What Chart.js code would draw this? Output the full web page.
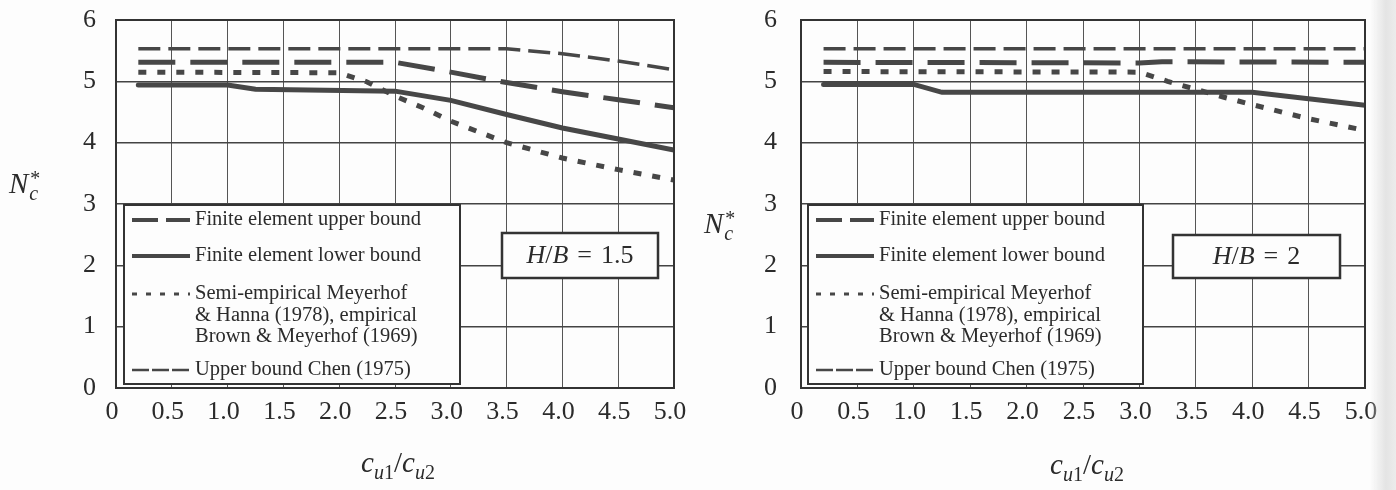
<!DOCTYPE html>
<html>
<head>
<meta charset="utf-8">
<script src="https://cdn.jsdelivr.net/npm/chart.js@4/dist/chart.umd.min.js"></script>
<style>
  body { margin: 0; background: #fdfdfd; width: 1396px; height: 490px; position: relative; overflow: hidden;
         font-family: "Liberation Serif", "DejaVu Serif", serif; color: #2b2b2b; }
  canvas { position: absolute; top: 0; }
  .ytitle { position: absolute; font-size: 29px; font-style: italic; white-space: nowrap; }
  .ytitle .ss { display: inline-block; vertical-align: middle; line-height: 15px; font-size: 20px; margin-left: 1px; }
  .xtitle { position: absolute; font-size: 29px; font-style: italic; white-space: nowrap; transform: translateX(-50%); }
  .xtitle sub { font-size: 20px; }
  .xtitle .up { font-style: normal; }
  .edge { position: absolute; top: 0; right: 0; width: 26px; height: 490px;
          background: linear-gradient(to right, rgba(230,230,230,0), #e4e4e4 60%, #ececec); }
</style>
</head>
<body>
<canvas id="left" width="698" height="490" style="left:0"></canvas>
<canvas id="right" width="698" height="490" style="left:698px"></canvas>
<div class="edge"></div>

<div class="ytitle" style="left:9px;top:167px">N<span class="ss">*<br>c</span></div>
<div class="ytitle" style="left:704px;top:207px">N<span class="ss">*<br>c</span></div>
<div class="xtitle" style="left:398px;top:446px">c<sub>u<span class="up">1</span></sub><span class="up">/</span>c<sub>u<span class="up">2</span></sub></div>
<div class="xtitle" style="left:1087px;top:448px">c<sub>u<span class="up">1</span></sub><span class="up">/</span>c<sub>u<span class="up">2</span></sub></div>

<script>
// x axis tick labels: c_u1/c_u2 from 0 to 5.0 in steps of 0.5
var xTicks = [0, 0.5, 1.0, 1.5, 2.0, 2.5, 3.0, 3.5, 4.0, 4.5, 5.0];
var yTicks = [0, 1, 2, 3, 4, 5, 6];

var seriesNames = ['Finite element upper bound', 'Finite element lower bound',
                   'Semi-empirical Meyerhof', 'Upper bound Chen (1975)'];

// H/B = 1.5
var upperL_x = [0.2, 2.5, 3.0, 3.5, 4.0, 4.5, 5.0];
var upperL_y = [5.31, 5.31, 5.15, 4.98, 4.83, 4.70, 4.57];
var lowerL_x = [0.2, 1.0, 1.25, 2.5, 3.0, 3.5, 4.0, 4.5, 5.0];
var lowerL_y = [4.94, 4.94, 4.87, 4.84, 4.69, 4.46, 4.24, 4.06, 3.88];
var semiL_x = [0.2, 2.0, 2.25, 2.5, 2.75, 3.0, 3.5, 4.0, 4.5, 5.0];
var semiL_y = [5.15, 5.14, 4.99, 4.76, 4.57, 4.35, 4.00, 3.75, 3.56, 3.39];
var chenL_x = [0.2, 3.5, 4.0, 4.5, 5.0];
var chenL_y = [5.53, 5.53, 5.45, 5.33, 5.19];

// H/B = 2
var upperR_x = [0.2, 3.0, 3.2, 5.0];
var upperR_y = [5.31, 5.30, 5.32, 5.31];
var lowerR_x = [0.2, 1.0, 1.25, 4.0, 5.0];
var lowerR_y = [4.95, 4.95, 4.82, 4.82, 4.61];
var semiR_x = [0.2, 3.0, 3.25, 3.5, 3.75, 4.0, 4.5, 5.0];
var semiR_y = [5.16, 5.15, 5.00, 4.87, 4.74, 4.62, 4.39, 4.20];
var chenR_x = [0.2, 5.0];
var chenR_y = [5.53, 5.53];

var ink = '#474747';
var serif = '"Liberation Serif", "DejaVu Serif", serif';

function pts(xs, ys) {
    return xs.map(function (x, i) { return { x: x, y: ys[i] }; });
}

function makeSets(up, lo, se, ch) {
    return [
        { label: seriesNames[0], data: up, borderColor: ink, borderWidth: 5, borderDash: [37, 15], borderCapStyle: 'butt' },
        { label: seriesNames[1], data: lo, borderColor: ink, borderWidth: 5, borderCapStyle: 'round' },
        { label: seriesNames[2], data: se, borderColor: ink, borderWidth: 5, borderDash: [8, 11], borderCapStyle: 'butt' },
        { label: seriesNames[3], data: ch, borderColor: ink, borderWidth: 3.5, borderDash: [22, 8], borderCapStyle: 'butt' }
    ];
}

// draws the frame, the legend box and the H/B label inside the plot
var figurePlugin = {
    id: 'figure',
    afterDatasetsDraw: function (chart, args, o) {
        var ctx = chart.ctx, a = chart.chartArea;
        ctx.save();
        ctx.setLineDash([]);
        ctx.strokeStyle = '#333';
        ctx.lineWidth = 2;
        ctx.strokeRect(a.left, a.top, a.right - a.left, a.bottom - a.top);

        // legend
        var L = o.legend;
        ctx.fillStyle = '#fdfdfd';
        ctx.fillRect(L.x, L.y, L.w, L.h);
        ctx.strokeRect(L.x, L.y, L.w, L.h);
        var rows = [
            { ds: 0, text: [seriesNames[0]], dy: 15, dash: [26, 8], w: 4 },
            { ds: 1, text: [seriesNames[1]], dy: 51, dash: [], w: 4 },
            { ds: 2, text: [seriesNames[2], '& Hanna (1978), empirical', 'Brown & Meyerhof (1969)'], dy: 89, dash: [5, 9], w: 3 },
            { ds: 3, text: [seriesNames[3]], dy: 165, dash: [17, 3], w: 2.5 }
        ];
        ctx.font = '20.5px ' + serif;
        ctx.textBaseline = 'middle';
        rows.forEach(function (r) {
            var yy = L.y + r.dy;
            ctx.beginPath();
            ctx.strokeStyle = chart.data.datasets[r.ds].borderColor;
            ctx.lineWidth = r.w;
            ctx.setLineDash(r.dash);
            ctx.lineCap = 'butt';
            ctx.moveTo(L.x + 8, yy);
            ctx.lineTo(L.x + 66, yy);
            ctx.stroke();
            ctx.setLineDash([]);
            ctx.fillStyle = '#2b2b2b';
            r.text.forEach(function (t, i) {
                ctx.fillText(t, L.x + 71, yy + i * 21.5);
            });
        });

        // H/B box
        var B = o.hb;
        ctx.fillStyle = '#fdfdfd';
        ctx.fillRect(B.x, B.y, B.w, B.h);
        ctx.strokeStyle = '#333';
        ctx.lineWidth = 2.5;
        ctx.strokeRect(B.x, B.y, B.w, B.h);
        var parts = [['H', true, 0], ['/', false, 0], ['B', true, 9], ['=', false, 9], [o.ratio, false, 0]];
        var widths = parts.map(function (p) {
            ctx.font = (p[1] ? 'italic ' : '') + '26px ' + serif;
            return ctx.measureText(p[0]).width + p[2];
        });
        var total = widths.reduce(function (s, w) { return s + w; }, 0);
        var x = B.x + (B.w - total) / 2;
        ctx.fillStyle = '#2b2b2b';
        parts.forEach(function (p, i) {
            ctx.font = (p[1] ? 'italic ' : '') + '26px ' + serif;
            ctx.fillText(p[0], x, B.y + B.h / 2 + 1);
            x += widths[i];
        });
        ctx.restore();
    }
};

function makeChart(id, sets, yWidth, padRight, yPad, fig) {
    return new Chart(document.getElementById(id).getContext('2d'), {
        type: 'line',
        data: { datasets: sets },
        plugins: [figurePlugin],
        options: {
            responsive: false,
            animation: false,
            devicePixelRatio: 1,
            layout: { padding: { top: 20, right: padRight, left: 0, bottom: 0 } },
            elements: { point: { radius: 0 }, line: { tension: 0 } },
            plugins: { legend: { display: false }, tooltip: { enabled: false }, figure: fig },
            scales: {
                x: {
                    type: 'linear', min: 0, max: 5,
                    afterBuildTicks: function (s) { s.ticks = xTicks.map(function (v) { return { value: v }; }); },
                    afterFit: function (s) { s.height = 102; },
                    grid: { color: '#555', lineWidth: 1, drawTicks: true, tickLength: 9, tickColor: 'rgba(0,0,0,0)' },
                    border: { display: false },
                    ticks: {
                        color: '#2b2b2b', padding: 0, maxRotation: 0, labelOffset: -4,
                        font: { family: serif, size: 26 },
                        callback: function (v) { return v === 0 ? '0' : v.toFixed(1); }
                    }
                },
                y: {
                    min: 0, max: 6,
                    afterBuildTicks: function (s) { s.ticks = yTicks.map(function (v) { return { value: v }; }); },
                    afterFit: function (s) { s.width = yWidth; },
                    grid: { color: '#444', lineWidth: 1.5, drawTicks: true, tickLength: yPad, tickColor: 'rgba(0,0,0,0)' },
                    border: { display: false },
                    ticks: { color: '#2b2b2b', padding: 0, font: { family: serif, size: 26, lineHeight: 1 } }
                }
            }
        }
    });
}

makeChart('left',
    makeSets(pts(upperL_x, upperL_y), pts(lowerL_x, lowerL_y), pts(semiL_x, semiL_y), pts(chenL_x, chenL_y)),
    116, 24, 20,
    { legend: { x: 124, y: 205, w: 336, h: 179 }, hb: { x: 502, y: 233, w: 156, h: 45 }, ratio: '1.5' });

makeChart('right',
    makeSets(pts(upperR_x, upperR_y), pts(lowerR_x, lowerR_y), pts(semiR_x, semiR_y), pts(chenR_x, chenR_y)),
    103, 31, 24,
    { legend: { x: 110, y: 205, w: 335, h: 179 }, hb: { x: 475, y: 235, w: 167, h: 43 }, ratio: '2' });
</script>
</body>
</html>
